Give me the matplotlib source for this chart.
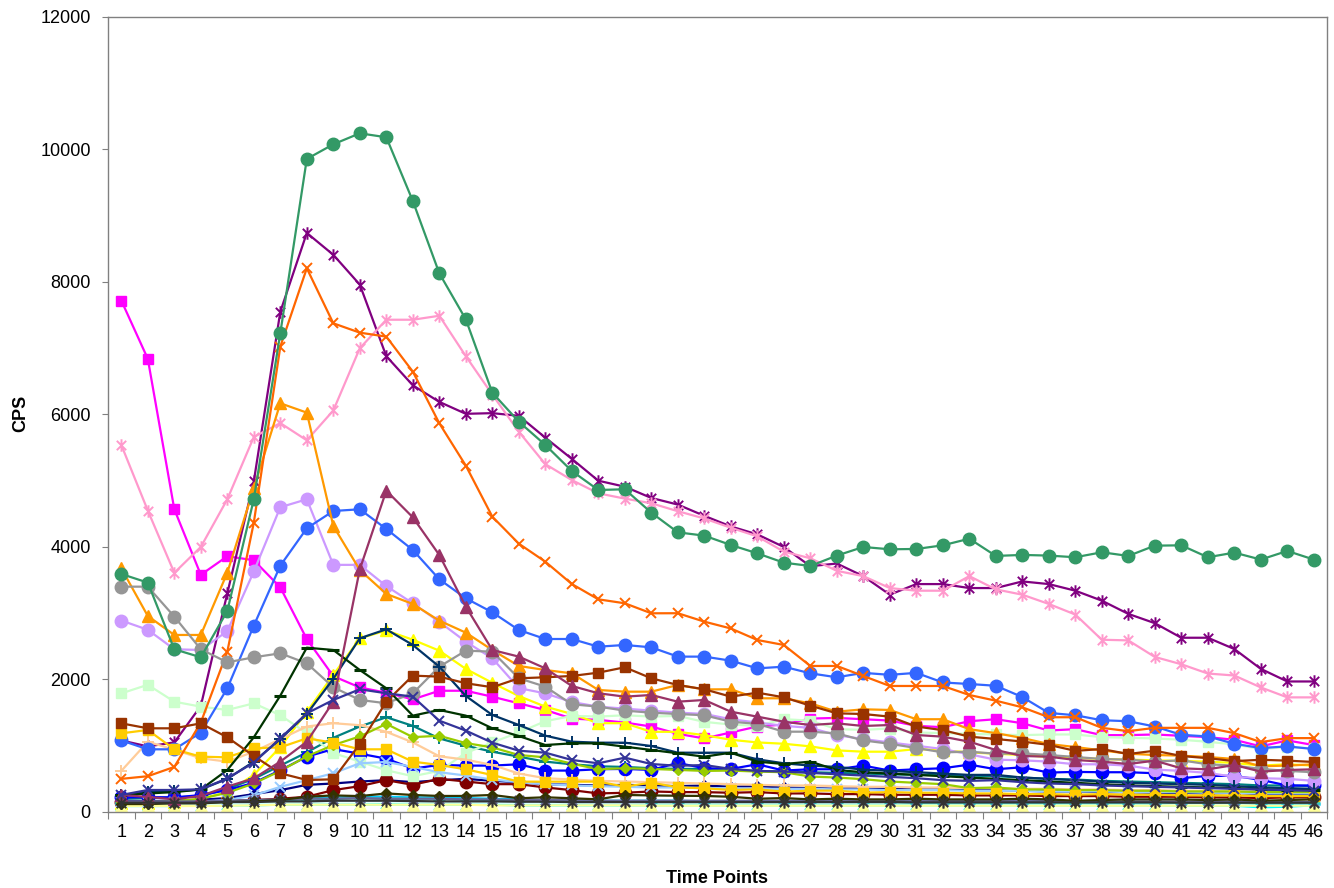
import matplotlib.pyplot as plt
from matplotlib.path import Path

plt.rcParams['font.family'] = ['Liberation Sans', 'DejaVu Sans']

time_points = list(range(1, 47))

navy_diamond = [170, 165, 170, 185, 210, 270, 330, 410, 430, 460,
                480, 450, 480, 500, 470, 450, 420, 410, 400, 410,
                400, 390, 400, 380, 390, 370, 360, 350, 360, 350,
                340, 340, 330, 330, 320, 310, 310, 300, 300, 290,
                290, 280, 290, 270, 270, 260]
magenta_square = [7720, 6840, 4570, 3580, 3860, 3800, 3390, 2610, 2050, 1880,
                  1800, 1700, 1830, 1830, 1740, 1640, 1540, 1410, 1390, 1350,
                  1290, 1180, 1110, 1200, 1290, 1320, 1410, 1420, 1400, 1380,
                  1300, 1280, 1370, 1400, 1340, 1230, 1250, 1160, 1160, 1170,
                  1150, 1130, 1090, 990, 1080, 1010]
yellow_triangle = [130, 140, 150, 200, 300, 560, 980, 1510, 2070, 2620,
                   2740, 2600, 2435, 2160, 1950, 1750, 1590, 1480, 1340, 1340,
                   1210, 1210, 1160, 1090, 1050, 1030, 990, 930, 910, 910,
                   950, 930, 900, 880, 860, 830, 820, 800, 790, 780,
                   770, 760, 740, 700, 720, 700]
cyan_x = [90, 90, 90, 95, 100, 100, 110, 110, 110, 110,
          115, 110, 110, 110, 110, 100, 100, 100, 100, 100,
          100, 100, 100, 100, 100, 100, 100, 100, 100, 100,
          100, 100, 100, 100, 100, 100, 100, 100, 100, 100,
          95, 95, 95, 70, 80, 100]
purple_star = [1080, 990, 1050, 1600, 3300, 4990, 7550, 8740, 8410, 7960,
               6880, 6440, 6190, 6010, 6020, 5980, 5650, 5330, 5000, 4910,
               4740, 4640, 4470, 4310, 4190, 4000, 3710, 3750, 3560, 3280,
               3440, 3440, 3380, 3380, 3480, 3440, 3340, 3190, 2990, 2850,
               2630, 2630, 2460, 2160, 1970, 1970]
darkred_circle = [150, 150, 150, 160, 170, 180, 200, 230, 330, 390,
                  480, 410, 500, 460, 420, 420, 370, 330, 280, 290,
                  310, 300, 300, 290, 300, 280, 280, 270, 270, 260,
                  260, 260, 250, 250, 250, 240, 240, 240, 230, 230,
                  230, 220, 220, 210, 220, 220]
teal_plus = [200, 210, 220, 240, 350, 500, 700, 900, 1120, 1290,
             1430, 1300, 1110, 1000, 910, 835, 760, 720, 690, 680,
             660, 650, 650, 630, 620, 610, 600, 590, 580, 570,
             560, 560, 550, 540, 520, 500, 490, 470, 460, 450,
             440, 430, 420, 400, 400, 390]
blue_circle = [220, 225, 220, 255, 330, 440, 630, 835, 950, 880,
               805, 655, 710, 700, 700, 720, 625, 625, 645, 650,
               635, 740, 660, 650, 720, 625, 645, 645, 700, 625,
               645, 660, 715, 645, 675, 595, 605, 600, 600, 585,
               510, 545, 545, 485, 400, 400]
skyblue_dash = [130, 130, 130, 140, 150, 160, 180, 200, 220, 230,
                230, 220, 220, 210, 200, 190, 180, 180, 170, 170,
                170, 170, 160, 160, 160, 160, 160, 150, 150, 150,
                150, 150, 150, 140, 140, 140, 140, 140, 140, 130,
                130, 130, 130, 130, 120, 120]
lightcyan_diamond = [110, 110, 110, 115, 120, 130, 140, 150, 160, 160,
                     160, 150, 150, 150, 140, 140, 140, 140, 130, 130,
                     130, 130, 130, 130, 130, 130, 130, 130, 130, 130,
                     130, 130, 130, 130, 130, 130, 130, 130, 130, 130,
                     120, 120, 120, 120, 120, 120]
lightgreen_square = [1790, 1920, 1665, 1590, 1540, 1640, 1460, 1190, 890, 760,
                     630, 540, 620, 890, 1050, 1200, 1370, 1450, 1440, 1460,
                     1440, 1450, 1360, 1320, 1300, 1400, 1380, 1250, 1240, 1260,
                     1200, 1190, 1180, 1170, 1160, 1170, 1170, 1130, 1120, 1110,
                     1090, 1060, 1020, 950, 980, 960]
lightyellow_triangle = [90, 90, 90, 90, 95, 100, 110, 110, 110, 110,
                        110, 110, 110, 110, 100, 100, 100, 100, 100, 100,
                        95, 95, 95, 95, 95, 95, 95, 95, 95, 95,
                        95, 95, 95, 95, 95, 95, 95, 95, 95, 95,
                        95, 95, 95, 95, 95, 95]
lightblue_x = [150, 150, 150, 160, 180, 250, 380, 480, 585, 735,
               755, 680, 600, 550, 490, 450, 420, 400, 390, 380,
               370, 370, 360, 360, 350, 350, 350, 340, 340, 330,
               330, 330, 320, 320, 320, 310, 310, 310, 300, 300,
               300, 290, 290, 280, 280, 280]
pink_star = [5540, 4550, 3610, 4000, 4720, 5660, 5870, 5610, 6060, 7000,
             7430, 7430, 7490, 6880, 6300, 5740, 5250, 5010, 4810, 4730,
             4660, 4540, 4430, 4290, 4160, 3930, 3830, 3640, 3560, 3380,
             3340, 3340, 3560, 3360, 3280, 3140, 2980, 2600, 2590, 2340,
             2230, 2090, 2060, 1880, 1730, 1730]
lavender_circle = [2890, 2750, 2456, 2445, 2730, 3630, 4600, 4720, 3730, 3730,
                   3410, 3150, 2870, 2570, 2320, 1870, 1790, 1660, 1590, 1560,
                   1530, 1500, 1480, 1400, 1350, 1300, 1270, 1160, 1100, 1050,
                   1000, 950, 870, 790, 780, 760, 720, 720, 700, 640,
                   620, 590, 530, 510, 500, 470]
peach_plus = [620, 1060, 940, 810, 760, 910, 1100, 1290, 1340, 1310,
              1210, 1050, 840, 790, 710, 580, 510, 490, 470, 460,
              450, 440, 430, 420, 410, 400, 400, 390, 380, 380,
              370, 370, 360, 360, 350, 350, 340, 340, 330, 330,
              320, 320, 310, 310, 300, 300]
royalblue_circle = [1080, 946, 946, 1197, 1867, 2812, 3718, 4282, 4543, 4569,
                    4272, 3955, 3512, 3225, 3014, 2747, 2611, 2611, 2495, 2521,
                    2485, 2345, 2345, 2284, 2168, 2193, 2093, 2033, 2100, 2070,
                    2100, 1955, 1932, 1905, 1735, 1495, 1460, 1385, 1370, 1290,
                    1165, 1140, 1030, 965, 990, 950]
turquoise_dash = [140, 140, 140, 150, 160, 170, 180, 190, 200, 210,
                  210, 200, 200, 190, 180, 170, 170, 160, 160, 160,
                  150, 150, 150, 150, 150, 150, 150, 150, 150, 150,
                  140, 140, 140, 140, 140, 140, 140, 140, 140, 140,
                  140, 140, 140, 130, 130, 130]
yellowgreen_diamond = [150, 150, 160, 200, 290, 430, 620, 840, 1010, 1140,
                       1330, 1130, 1150, 1040, 975, 860, 825, 730, 645, 660,
                       650, 635, 620, 625, 610, 600, 535, 520, 495, 460,
                       440, 420, 360, 370, 340, 340, 330, 330, 320, 320,
                       310, 310, 310, 300, 300, 300]
gold_square = [1187, 1238, 946, 835, 825, 961, 976, 1112, 1046, 946,
               946, 760, 709, 644, 558, 458, 458, 458, 458, 383,
               443, 372, 357, 332, 342, 307, 322, 322, 292, 300,
               290, 290, 280, 280, 270, 270, 260, 270, 260, 260,
               250, 250, 250, 240, 240, 240]
orange_triangle = [3678, 2958, 2672, 2672, 3612, 4886, 6169, 6028, 4317, 3653,
                   3291, 3140, 2888, 2707, 2445, 2204, 2143, 2093, 1842, 1816,
                   1816, 1917, 1850, 1852, 1716, 1716, 1640, 1514, 1550, 1540,
                   1400, 1400, 1250, 1190, 1117, 1026, 980, 930, 880, 860,
                   850, 830, 800, 690, 700, 720]
orange_x = [500, 540, 680, 1350, 2420, 4367, 7024, 8207, 7376, 7235,
            7175, 6647, 5867, 5228, 4458, 4050, 3778, 3441, 3210, 3150,
            2999, 3000, 2873, 2770, 2596, 2521, 2204, 2204, 2053, 1902,
            1902, 1902, 1766, 1680, 1580, 1430, 1430, 1270, 1220, 1270,
            1270, 1270, 1190, 1055, 1115, 1115]
slate_star = [160, 160, 160, 160, 170, 180, 190, 200, 200, 210,
              200, 200, 200, 190, 190, 180, 180, 180, 170, 170,
              170, 170, 170, 170, 170, 170, 170, 170, 170, 170,
              165, 165, 165, 165, 165, 165, 160, 160, 160, 160,
              160, 160, 160, 150, 150, 150]
gray_circle = [3401, 3401, 2949, 2456, 2259, 2335, 2395, 2244, 1883, 1691,
               1641, 1792, 2193, 2435, 2420, 2018, 1892, 1626, 1590, 1530,
               1499, 1479, 1460, 1363, 1330, 1212, 1212, 1187, 1080, 1030,
               965, 900, 910, 880, 885, 860, 830, 800, 790, 760,
               780, 720, 700, 650, 620, 600]
darknavy_plus = [250, 300, 310, 340, 500, 760, 1100, 1480, 2010, 2622,
                 2757, 2521, 2193, 1751, 1464, 1313, 1152, 1061, 1046, 1046,
                 996, 895, 895, 895, 795, 735, 700, 680, 640, 620,
                 600, 580, 560, 560, 520, 500, 480, 460, 440, 430,
                 420, 410, 390, 370, 360, 350]
seagreen_circle = [3592, 3462, 2456, 2335, 3034, 4720, 7226, 9857, 10078, 10244,
                   10184, 9223, 8131, 7436, 6329, 5891, 5540, 5147, 4860, 4871,
                   4518, 4221, 4171, 4030, 3904, 3763, 3713, 3870, 4000, 3965,
                   3970, 4025, 4125, 3865, 3880, 3870, 3845, 3920, 3865, 4020,
                   4025, 3845, 3915, 3810, 3940, 3810]
darkgreen_dash = [250, 280, 300, 340, 634, 1127, 1756, 2480, 2445, 2143,
                  1867, 1454, 1540, 1454, 1263, 1147, 1011, 1036, 1036, 986,
                  936, 886, 835, 895, 760, 724, 760, 634, 600, 580,
                  560, 540, 520, 500, 480, 460, 440, 420, 400, 390,
                  380, 370, 360, 340, 330, 330]
darkolive_diamond = [120, 120, 130, 130, 150, 160, 180, 230, 250, 240,
                     280, 257, 242, 242, 257, 207, 222, 207, 191, 257,
                     250, 245, 242, 230, 200, 210, 190, 200, 190, 190,
                     200, 190, 190, 190, 200, 190, 170, 180, 190, 190,
                     190, 180, 190, 170, 180, 190]
brown_square = [1338, 1263, 1263, 1338, 1127, 845, 584, 483, 493, 1026,
                1665, 2058, 2043, 1943, 1883, 2018, 2033, 2053, 2103, 2184,
                2018, 1917, 1852, 1741, 1801, 1731, 1605, 1489, 1479, 1439,
                1290, 1235, 1137, 1102, 1063, 1013, 923, 950, 875, 925,
                845, 812, 768, 788, 775, 755]
plum_triangle = [257, 227, 191, 242, 383, 508, 760, 1061, 1665, 3663,
                 4850, 4448, 3879, 3100, 2445, 2345, 2168, 1902, 1792, 1741,
                 1766, 1665, 1691, 1514, 1439, 1363, 1313, 1338, 1298, 1313,
                 1162, 1137, 1061, 936, 845, 835, 785, 760, 724, 775,
                 659, 644, 709, 609, 634, 644]
indigo_x = [257, 332, 332, 342, 508, 745, 1112, 1489, 1691, 1852,
            1792, 1741, 1378, 1228, 1046, 925, 895, 785, 735, 820,
            724, 697, 709, 650, 620, 610, 590, 570, 550, 530,
            510, 480, 470, 480, 450, 430, 420, 400, 390, 380,
            370, 360, 350, 340, 330, 320]
darkgray_star = [140, 140, 140, 140, 150, 150, 160, 160, 170, 170,
                 170, 165, 160, 160, 160, 155, 155, 150, 150, 150,
                 150, 150, 150, 150, 150, 150, 150, 150, 150, 150,
                 145, 145, 145, 145, 145, 145, 145, 145, 145, 145,
                 140, 140, 140, 140, 140, 140]

# asterisk marker: an x with a vertical bar through it
star = Path([(-0.75, -0.75), (0.75, 0.75), (-0.75, 0.75), (0.75, -0.75), (0, -1), (0, 1)],
            [Path.MOVETO, Path.LINETO, Path.MOVETO, Path.LINETO, Path.MOVETO, Path.LINETO])

# marker name -> (marker, size, edge width, filled)
markers = {
    'diamond': ('D', 5.5, 1.0, True),
    'square': ('s', 7.5, 1.0, True),
    'triangle': ('^', 8.5, 1.0, True),
    'x': ('x', 7.5, 1.4, False),
    'star': (star, 9.0, 1.4, False),
    'circle': ('o', 9.0, 1.0, True),
    'plus': ('+', 8.5, 1.4, False),
    'dash': ('_', 9.0, 2.2, False),
}

series = [
    (navy_diamond, '#000080', 'diamond'),
    (magenta_square, '#FF00FF', 'square'),
    (yellow_triangle, '#FFFF00', 'triangle'),
    (cyan_x, '#00FFFF', 'x'),
    (purple_star, '#800080', 'star'),
    (darkred_circle, '#800000', 'circle'),
    (teal_plus, '#008080', 'plus'),
    (blue_circle, '#0000FF', 'circle'),
    (skyblue_dash, '#00CCFF', 'dash'),
    (lightcyan_diamond, '#CCFFFF', 'diamond'),
    (lightgreen_square, '#CCFFCC', 'square'),
    (lightyellow_triangle, '#FFFF99', 'triangle'),
    (lightblue_x, '#99CCFF', 'x'),
    (pink_star, '#FF99CC', 'star'),
    (lavender_circle, '#CC99FF', 'circle'),
    (peach_plus, '#FFCC99', 'plus'),
    (royalblue_circle, '#3366FF', 'circle'),
    (turquoise_dash, '#33CCCC', 'dash'),
    (yellowgreen_diamond, '#99CC00', 'diamond'),
    (gold_square, '#FFCC00', 'square'),
    (orange_triangle, '#FF9900', 'triangle'),
    (orange_x, '#FF6600', 'x'),
    (slate_star, '#666699', 'star'),
    (gray_circle, '#969696', 'circle'),
    (darknavy_plus, '#003366', 'plus'),
    (seagreen_circle, '#339966', 'circle'),
    (darkgreen_dash, '#003300', 'dash'),
    (darkolive_diamond, '#333300', 'diamond'),
    (brown_square, '#993300', 'square'),
    (plum_triangle, '#993366', 'triangle'),
    (indigo_x, '#333399', 'x'),
    (darkgray_star, '#333333', 'star'),
]

fig = plt.figure(figsize=(13.34, 8.88), dpi=100)
ax = fig.add_axes([0.081, 0.0856, 0.9138, 0.8953])

for values, color, kind in series:
    m, ms, mew, filled = markers[kind]
    ax.plot(time_points, values, color=color, linewidth=1.6,
            marker=m, markersize=ms, markeredgewidth=mew,
            markerfacecolor=color if filled else 'none', markeredgecolor=color)

ax.set_xlim(0.5, 46.5)
ax.set_ylim(0, 12000)
ax.set_yticks(range(0, 12001, 2000))

# category labels sit between the tick marks
ax.set_xticks([i + 0.5 for i in range(0, 47)])
ax.set_xticklabels([])
ax.set_xticks(time_points, minor=True)
ax.set_xticklabels([str(t) for t in time_points], minor=True)

ax.tick_params(axis='x', which='major', direction='out', length=5, color='#808080')
ax.tick_params(axis='x', which='minor', length=0, pad=9, labelsize=13)
ax.tick_params(axis='y', direction='out', length=4.5, pad=8, color='#808080', labelsize=13)

for side in ['left', 'bottom', 'right', 'top']:
    ax.spines[side].set_color('#808080')
    ax.spines[side].set_linewidth(1.0)

fig.text(0.5375, 1 - 878 / 888, 'Time Points', ha='center', va='center',
         fontsize=13, fontweight='bold')
fig.text(21 / 1334, 1 - 413 / 888, 'CPS', ha='center', va='center',
         rotation=90, fontsize=13, fontweight='bold')

plt.savefig('out.png', dpi=100)
